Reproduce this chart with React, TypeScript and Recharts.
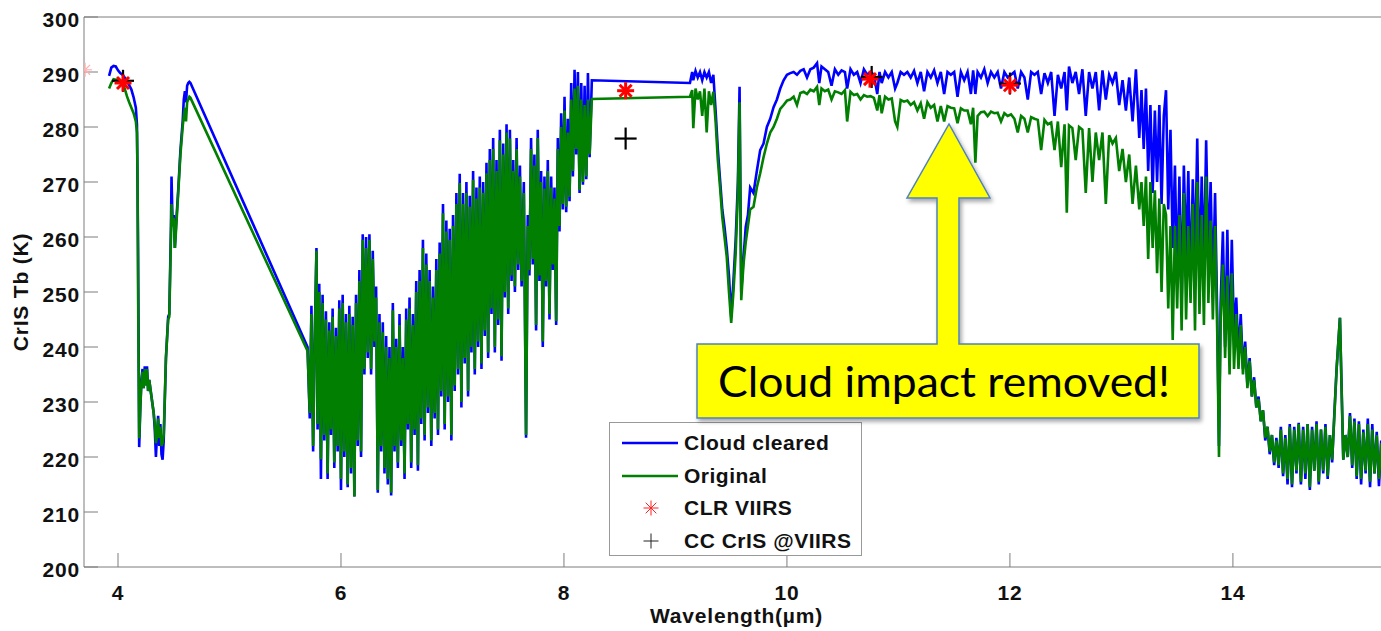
import { ComposedChart, Label, Legend, Line, XAxis, YAxis } from "recharts";

const FONT = "'Liberation Sans', Arial, sans-serif";
const AXIS = "#7d7d7d";

const xTicks = [4, 6, 8, 10, 12, 14];
const yTicks = [200, 210, 220, 230, 240, 250, 260, 270, 280, 290, 300];

// shortwave band, 3.9 - 4.65 um
const wlSW = [
  3.92, 3.94, 3.96, 3.98, 4.0, 4.02, 4.04, 4.06, 4.08, 4.1,
  4.12, 4.14, 4.16, 4.17, 4.175, 4.18, 4.19, 4.2, 4.21, 4.22,
  4.23, 4.24, 4.25, 4.26, 4.27, 4.28, 4.3, 4.32, 4.33, 4.34,
  4.35, 4.36, 4.37, 4.38, 4.39, 4.4, 4.41, 4.43, 4.45, 4.46,
  4.475, 4.48, 4.49, 4.5, 4.51, 4.52, 4.54, 4.56, 4.58, 4.59,
  4.6, 4.61, 4.62, 4.63, 4.64, 4.65,
];
const ccSW = [
  289.3, 290.8, 291.1, 291.0, 290.3, 289.8, 289.5, 289.0, 288.4, 287.6,
  286.8, 285.4, 283.5, 280.5, 270.0, 258.0, 221.8, 229.0, 234.0, 236.0,
  232.5, 236.5, 233.0, 236.5, 232.0, 234.0, 231.0, 228.0, 225.0, 220.0,
  224.0, 227.5, 222.0, 226.0, 220.5, 219.5, 223.0, 238.0, 245.5, 246.0,
  262.0, 271.0, 262.0, 264.0, 258.0, 262.0, 268.5, 275.8, 281.0, 285.0,
  286.5, 284.5, 287.5, 288.0, 288.2, 288.0,
];
const orSW = [
  287.0, 288.0, 288.7, 288.6, 288.5, 288.2, 287.6, 287.0, 285.6, 284.5,
  283.5, 282.5, 281.0, 279.0, 272.0, 250.0, 223.4, 229.0, 233.5, 235.5,
  232.5, 236.0, 233.0, 236.0, 232.0, 234.0, 231.0, 228.0, 226.0, 222.5,
  224.0, 227.0, 223.5, 225.5, 222.0, 222.5, 224.0, 238.0, 245.0, 245.5,
  260.0, 266.0, 262.0, 263.5, 258.0, 261.0, 268.0, 275.0, 280.0, 282.0,
  283.5, 281.0, 284.5, 285.0, 285.5, 285.3,
];

// water vapour band, 5.7 - 8.25 um
const wlWV = [
  5.7, 5.72, 5.735, 5.75, 5.765, 5.78, 5.79, 5.805, 5.82, 5.835,
  5.85, 5.865, 5.88, 5.895, 5.91, 5.925, 5.94, 5.955, 5.97, 5.985,
  6.0, 6.015, 6.03, 6.045, 6.06, 6.075, 6.09, 6.105, 6.12, 6.135,
  6.15, 6.165, 6.18, 6.195, 6.21, 6.225, 6.24, 6.255, 6.27, 6.285,
  6.3, 6.315, 6.33, 6.345, 6.36, 6.375, 6.39, 6.405, 6.42, 6.435,
  6.45, 6.465, 6.48, 6.495, 6.51, 6.525, 6.54, 6.555, 6.57, 6.585,
  6.6, 6.615, 6.63, 6.645, 6.66, 6.675, 6.69, 6.705, 6.72, 6.735,
  6.75, 6.765, 6.78, 6.795, 6.81, 6.825, 6.84, 6.855, 6.87, 6.885,
  6.9, 6.915, 6.93, 6.945, 6.96, 6.975, 6.99, 7.005, 7.02, 7.035,
  7.05, 7.065, 7.08, 7.095, 7.11, 7.125, 7.14, 7.155, 7.17, 7.185,
  7.2, 7.215, 7.23, 7.245, 7.26, 7.275, 7.29, 7.305, 7.32, 7.335,
  7.35, 7.365, 7.38, 7.395, 7.41, 7.425, 7.44, 7.455, 7.47, 7.485,
  7.5, 7.515, 7.53, 7.545, 7.56, 7.575, 7.59, 7.605, 7.62, 7.64,
  7.66, 7.675, 7.69, 7.705, 7.72, 7.735, 7.75, 7.765, 7.78, 7.795,
  7.81, 7.825, 7.84, 7.855, 7.87, 7.885, 7.9, 7.915, 7.93, 7.945,
  7.96, 7.975, 7.99, 8.005, 8.02, 8.035, 8.05, 8.065, 8.08, 8.095,
  8.11, 8.125, 8.14, 8.155, 8.17, 8.185, 8.2, 8.215, 8.23, 8.25,
];
const ccWV = [
  240.0, 227, 247.5, 221, 242.5, 258, 225, 251.5, 216, 249.5,
  223, 246.5, 216, 244.5, 224, 247, 218, 243.5, 221, 248.5,
  214, 249.5, 220, 246, 214.5, 247.5, 217, 245.5, 212.8, 249.5,
  222, 254, 220, 260.5, 235, 260, 238, 260.5, 235, 257.5,
  240, 251, 213.5, 246, 221, 244.5, 217, 242, 215, 240,
  213, 248, 221, 241.5, 218, 246, 222, 240, 216, 247,
  225, 249, 218, 246, 224, 252, 217.5, 254, 226, 259.5,
  223, 257, 228, 254, 222, 251, 227, 256, 224, 259,
  231, 266, 225, 263, 230, 261.5, 223, 264, 232, 268,
  235, 271.5, 229, 268, 237, 270, 231, 267.5, 239, 272,
  235, 269, 240, 271, 236, 270, 242, 273.5, 238, 276,
  246, 278, 239, 274, 244, 279.5, 237.5, 277, 249, 280.5,
  246, 279.5, 252, 274, 250, 278, 254, 273, 251, 270,
  223.5, 264, 253, 278, 255, 275, 243, 279.5, 252, 272,
  240, 271, 251, 274, 245, 271, 254, 269, 244, 278,
  261, 282.5, 265, 285.5, 264.5, 281.5, 266.5, 288, 271, 290.4,
  275, 290, 268, 288, 269.5, 287.5, 270.5, 289.8, 274.5, 288.5,
];
const orWV = [
  239.3, 228, 246, 222, 241, 257.5, 226, 250, 219.6, 248,
  224, 245, 217, 243, 225, 245.5, 219, 242, 222, 247,
  216, 248, 221, 244.5, 215, 246, 218, 244, 212.8, 248,
  223, 252, 221, 259.5, 236, 258, 239, 259.5, 236, 256,
  241, 249, 214, 244.5, 222, 242.7, 218, 240, 216, 238,
  213.5, 246.7, 222, 240, 219, 244, 223, 238, 217, 245,
  226, 247, 219, 244, 225, 250, 218.5, 252, 227, 258,
  224, 255, 229, 252, 223, 249, 228, 254, 225, 257,
  232, 264.3, 226, 261, 231, 259.5, 224, 262, 233, 266,
  236, 269.8, 230, 266, 238, 268, 232, 265.5, 240, 270.4,
  236, 267, 241, 269, 237, 268, 243, 271.6, 239, 274,
  247, 276, 240, 272, 245, 277.6, 238.3, 275, 250, 279,
  247, 277.9, 253, 272, 251, 276, 255, 271, 252, 268,
  224, 262, 254, 276, 256, 273, 244, 278, 253, 270,
  241, 268.8, 252, 272, 246, 269, 255, 267, 244.7, 276,
  262, 280, 266, 283, 265.5, 279, 267.3, 285, 272, 287,
  276, 287.5, 268.5, 285, 270, 284, 271, 285, 275, 285.1,
];

// longwave window and CO2 band, 9.13 - 15.4 um
const wlLW = [
  9.13, 9.15, 9.16, 9.18, 9.2, 9.22, 9.24, 9.26, 9.28, 9.3,
  9.32, 9.34, 9.36, 9.38, 9.4, 9.42, 9.44, 9.46, 9.48, 9.5,
  9.52, 9.54, 9.56, 9.575, 9.59, 9.61, 9.63, 9.65, 9.67, 9.7,
  9.73, 9.76, 9.79, 9.82, 9.85, 9.88, 9.91, 9.94, 9.97, 10.0,
  10.03, 10.06, 10.09, 10.12, 10.15, 10.18, 10.21, 10.24, 10.27, 10.29,
  10.31, 10.34, 10.37, 10.4, 10.43, 10.46, 10.49, 10.52, 10.54, 10.57,
  10.6, 10.63, 10.66, 10.69, 10.72, 10.75, 10.78, 10.81, 10.83, 10.85,
  10.88, 10.91, 10.94, 10.97, 10.99, 11.02, 11.05, 11.08, 11.11, 11.14,
  11.17, 11.2, 11.23, 11.26, 11.29, 11.32, 11.35, 11.38, 11.41, 11.44,
  11.47, 11.5, 11.53, 11.56, 11.59, 11.62, 11.65, 11.67, 11.69, 11.71,
  11.74, 11.77, 11.8, 11.83, 11.86, 11.89, 11.92, 11.95, 11.98, 12.01,
  12.04, 12.07, 12.1, 12.13, 12.16, 12.19, 12.22, 12.25, 12.28, 12.31,
  12.34, 12.37, 12.4, 12.43, 12.46, 12.49, 12.51, 12.53, 12.56, 12.59,
  12.62, 12.65, 12.68, 12.71, 12.74, 12.77, 12.8, 12.83, 12.86, 12.89,
  12.92, 12.95, 12.98, 13.01, 13.04, 13.07, 13.1, 13.13, 13.16, 13.18,
  13.2, 13.22, 13.24, 13.26, 13.28, 13.3, 13.32, 13.34, 13.36, 13.38,
  13.4, 13.42, 13.44, 13.46, 13.48, 13.5, 13.52, 13.54, 13.56, 13.58,
  13.6, 13.62, 13.64, 13.66, 13.68, 13.7, 13.72, 13.74, 13.76, 13.78,
  13.8, 13.82, 13.84, 13.86, 13.875, 13.89, 13.91, 13.93, 13.95, 13.97,
  13.99, 14.01, 14.03, 14.05, 14.07, 14.09, 14.11, 14.13, 14.15, 14.17,
  14.19, 14.21, 14.23, 14.25, 14.27, 14.29, 14.31, 14.33, 14.35, 14.37,
  14.39, 14.41, 14.43, 14.45, 14.47, 14.49, 14.51, 14.53, 14.55, 14.57,
  14.59, 14.61, 14.63, 14.65, 14.67, 14.69, 14.71, 14.73, 14.75, 14.77,
  14.79, 14.81, 14.83, 14.85, 14.87, 14.89, 14.91, 14.93, 14.96, 14.99,
  15.01, 15.03, 15.05, 15.07, 15.09, 15.11, 15.13, 15.15, 15.17, 15.19,
  15.21, 15.23, 15.25, 15.27, 15.29, 15.31, 15.33, 15.35, 15.37, 15.4,
];
const ccLW = [
  288.0, 290.0, 288.5, 290.2, 289.0, 290.0, 288.5, 290.0, 289.0, 290.0,
  288.0, 289.5, 283.0, 276.0, 270.4, 265.0, 261.8, 258.0, 253.0, 245.5,
  252.0, 259.5, 270.0, 287.3, 250.0, 256.0, 261.8, 264.0, 269.0, 268.0,
  272.0, 275.8, 277.0, 280.0, 281.5, 283.6, 285.0, 287.0, 288.5, 289.5,
  289.8, 290.0, 289.5, 290.2, 290.5, 289.0, 290.5, 290.8, 291.6, 288.0,
  291.0, 290.5, 290.0, 287.5, 290.5, 289.5, 290.3, 290.0, 287.0, 290.5,
  289.5, 290.0, 288.0, 290.5, 289.5, 290.0, 289.5, 286.0, 290.0, 288.0,
  290.0, 289.0, 290.0, 287.0, 288.0, 290.0, 289.5, 290.0, 289.0, 290.2,
  288.0, 290.0, 286.5, 290.0, 289.0, 290.3, 288.0, 290.0, 286.0, 290.0,
  289.5, 290.0, 285.5, 290.0, 288.5, 290.0, 286.0, 290.3, 286.0, 290.0,
  289.0, 290.5, 288.0, 290.0, 289.0, 290.0, 287.0, 290.0, 289.0, 289.5,
  290.0, 287.0, 290.0, 289.0, 285.0, 290.0, 289.5, 290.0, 286.0, 289.8,
  288.0, 290.0, 282.0, 289.5, 287.0, 290.0, 283.0, 291.0, 288.0, 290.0,
  286.0, 290.5, 282.0, 290.0, 287.0, 290.0, 283.0, 290.3, 285.0, 289.5,
  288.0, 290.0, 284.0, 288.5, 283.0, 289.0, 281.0, 290.5, 278.0, 286.7,
  276.0, 287.0, 272.0, 284.0, 268.0, 283.0, 270.0, 284.0, 266.0, 282.0,
  286.7, 265.0, 279.5, 258.0, 273.0, 252.0, 271.0, 248.0, 273.0, 256.0,
  272.0, 250.0, 270.5, 255.0, 277.9, 252.0, 271.0, 254.0, 277.6, 256.0,
  270.0, 250.0, 268.0, 245.0, 222.0, 248.0, 261.0, 240.0, 261.3, 238.0,
  259.5, 242.0, 249.0, 238.0, 246.0, 236.0, 241.0, 233.0, 238.0, 231.0,
  234.5, 229.0, 231.0, 226.5, 228.5, 223.0, 225.5, 220.5, 224.0, 218.5,
  223.5, 218.0, 225.5, 216.5, 224.0, 215.0, 226.0, 214.5, 225.5, 217.0,
  226.2, 215.0, 225.5, 216.0, 226.0, 214.0, 225.5, 217.5, 226.5, 215.0,
  225.0, 217.0, 226.0, 216.0, 224.0, 219.0, 228.0, 236.0, 245.3, 219.5,
  224.0, 220.0, 228.0, 218.0, 227.0, 216.0, 226.5, 215.0, 225.0, 217.0,
  227.0, 214.5, 226.0, 217.0, 224.6, 214.7, 223.0, 216.0, 224.0, 220.0,
];
const orLW = [
  285.5, 286.7, 279.8, 287.0, 285.0, 286.5, 282.0, 287.0, 279.0, 286.5,
  284.0, 286.4, 281.0, 274.0, 269.0, 263.6, 260.0, 256.4, 250.0, 244.4,
  250.0, 257.0, 268.0, 284.5, 248.5, 255.0, 259.0, 262.0, 265.0, 265.5,
  269.0, 271.6, 274.5, 277.0, 279.0, 280.0, 281.5, 283.3, 284.0, 284.8,
  285.0, 285.5, 284.0, 286.2, 286.4, 286.0, 286.8, 286.5, 287.3, 284.0,
  287.0, 286.5, 286.8, 285.0, 286.5, 286.3, 286.0, 286.7, 281.0, 286.4,
  285.8, 286.0, 285.0, 285.8, 285.5, 285.6, 285.3, 283.0, 285.8, 282.5,
  285.5, 285.0, 285.2, 281.0, 280.0, 284.9, 284.6, 284.8, 284.0, 284.5,
  283.0, 284.3, 281.5, 284.5, 283.5, 284.0, 281.0, 283.8, 281.0, 283.8,
  283.5, 283.4, 280.7, 283.4, 283.0, 283.0, 280.5, 283.5, 273.5, 282.0,
  282.7, 282.8, 282.0, 282.8, 282.5, 282.6, 281.0, 282.5, 282.0, 282.3,
  281.5, 279.0, 282.0, 281.5, 279.0, 281.8, 281.5, 281.3, 275.8, 281.3,
  280.5, 280.8, 275.8, 281.0, 272.7, 280.5, 264.4, 280.3, 279.8, 274.0,
  280.0, 279.5, 268.0, 279.8, 270.0, 279.0, 274.0, 279.0, 266.0, 278.5,
  277.0, 278.0, 272.0, 276.0, 270.0, 275.0, 266.0, 273.0, 265.0, 270.0,
  262.0, 271.0, 256.0, 270.0, 258.0, 268.5, 253.4, 267.0, 250.0, 266.0,
  264.0, 247.0, 262.0, 241.3, 262.0, 247.0, 264.0, 243.0, 268.0, 245.0,
  262.0, 248.0, 266.0, 243.0, 270.0, 246.0, 264.0, 244.0, 271.0, 248.0,
  263.0, 245.0, 262.0, 242.0, 220.0, 245.0, 255.0, 238.0, 253.0, 235.0,
  253.4, 236.0, 246.0, 236.0, 244.0, 235.0, 240.0, 232.5, 237.5, 231.0,
  234.0, 229.0, 230.5, 226.5, 228.5, 223.5, 225.5, 221.0, 224.0, 219.0,
  223.0, 218.5, 225.0, 217.0, 223.5, 216.0, 225.5, 215.0, 225.0, 217.5,
  226.0, 215.5, 225.0, 217.0, 226.0, 214.5, 225.0, 217.5, 226.0, 215.5,
  225.0, 217.5, 225.5, 216.5, 224.0, 219.5, 227.5, 236.0, 245.3, 219.5,
  224.0, 220.0, 227.5, 218.5, 226.5, 216.5, 226.0, 216.0, 224.5, 217.5,
  226.0, 215.5, 225.0, 217.0, 224.0, 216.0, 222.5, 216.5, 223.5, 220.0,
];

// VIIRS band matchups
const clrWl = [4.045, 8.553, 10.745, 12.0];
const clrTb = [288.0, 286.6, 288.7, 287.6];
const ccViirsWl = [4.045, 8.553, 10.76, 12.0];
const ccViirsTb = [288.4, 277.9, 289.1, 287.9];
const ghostWl = [3.705];
const ghostTb = [290.4];

const wavelength = [...wlSW, ...wlWV, ...wlLW];
const cloudCleared = [...ccSW, ...ccWV, ...ccLW];
const original = [...orSW, ...orWV, ...orLW];

const spectrum = wavelength.map((wl, i) => ({ wl, cc: cloudCleared[i], orig: original[i] }));
const clrPoints = clrWl.map((wl, i) => ({ wl, tb: clrTb[i] }));
const ccViirsPoints = ccViirsWl.map((wl, i) => ({ wl, tb: ccViirsTb[i] }));
const ghostPoints = ghostWl.map((wl, i) => ({ wl, tb: ghostTb[i] }));

const textStyle = { fill: "#111", fontSize: 21, fontWeight: "bold", fontFamily: FONT, letterSpacing: 0.8 };

function Asterisk({ cx, cy, r, color, width }: any) {
  const d = r * 0.7071;
  return (
    <g stroke={color} strokeWidth={width}>
      <line x1={cx - r} y1={cy} x2={cx + r} y2={cy} />
      <line x1={cx} y1={cy - r} x2={cx} y2={cy + r} />
      <line x1={cx - d} y1={cy - d} x2={cx + d} y2={cy + d} />
      <line x1={cx - d} y1={cy + d} x2={cx + d} y2={cy - d} />
    </g>
  );
}

function Plus({ cx, cy, r, color, width }: any) {
  return (
    <g stroke={color} strokeWidth={width}>
      <line x1={cx - r} y1={cy} x2={cx + r} y2={cy} />
      <line x1={cx} y1={cy - r} x2={cx} y2={cy + r} />
    </g>
  );
}

const legendItems = [
  { name: "Cloud cleared", kind: "line", color: "#0000ff" },
  { name: "Original", kind: "line", color: "#007f00" },
  { name: "CLR VIIRS", kind: "star", color: "#ff2020" },
  { name: "CC CrIS @VIIRS", kind: "plus", color: "#222" },
];

function LegendBox() {
  return (
    <div
      style={{
        width: 253,
        height: 134,
        boxSizing: "border-box",
        border: "1px solid #999",
        background: "#fff",
        paddingTop: 4,
        fontFamily: FONT,
      }}
    >
      {legendItems.map((it) => (
        <div key={it.name} style={{ display: "flex", alignItems: "center", height: 32.5 }}>
          <svg width={70} height={24} style={{ marginLeft: 1 }}>
            {it.kind === "line" && <line x1={11} y1={12} x2={67} y2={12} stroke={it.color} strokeWidth={2.5} />}
            {it.kind === "star" && <Asterisk cx={40} cy={12} r={7.5} color={it.color} width={1} />}
            {it.kind === "plus" && <Plus cx={40} cy={12} r={7.5} color={it.color} width={1} />}
          </svg>
          <span style={{ marginLeft: 3, fontSize: 21, fontWeight: "bold", color: "#111", letterSpacing: 0.5 }}>
            {it.name}
          </span>
        </div>
      ))}
    </div>
  );
}

function Callout() {
  const path = "M697,344 L937,344 L937,198 L907,198 L949,124 L990,198 L959,198 L959,344 L1199,344 L1199,418 L697,418 Z";
  return (
    <svg width={1381} height={631} style={{ position: "absolute", left: 0, top: 0, pointerEvents: "none" }}>
      <defs>
        <filter id="shadow" x="-10%" y="-10%" width="120%" height="130%">
          <feDropShadow dx="2" dy="3" stdDeviation="2" floodColor="#000" floodOpacity="0.35" />
        </filter>
      </defs>
      <path d={path} fill="#ffff00" stroke="#4f81bd" strokeWidth={1.5} filter="url(#shadow)" />
      <text
        x={718}
        y={397}
        fontFamily="Lato, 'Open Sans', sans-serif"
        fontSize={42}
        fill="#000"
        textLength={452}
        lengthAdjust="spacingAndGlyphs"
      >
        Cloud impact removed!
      </text>
    </svg>
  );
}

export default function App() {
  return (
    <div style={{ position: "absolute", left: 0, top: 0, width: 1381, height: 631, overflow: "hidden", background: "#fff" }}>
      <ComposedChart width={1390} height={631} data={spectrum} margin={{ top: 16, right: 0, bottom: 0, left: 0 }}>
        <XAxis
          dataKey="wl"
          type="number"
          domain={[3.695, 15.4]}
          allowDataOverflow
          ticks={xTicks}
          interval={0}
          height={64}
          tickSize={-14}
          tickMargin={32}
          stroke={AXIS}
          tick={textStyle}
        >
          <Label value="Wavelength(µm)" position="center" dy={17} {...textStyle} />
        </XAxis>
        <XAxis
          xAxisId="top"
          orientation="top"
          dataKey="wl"
          type="number"
          domain={[3.695, 15.4]}
          allowDataOverflow
          ticks={xTicks}
          interval={0}
          height={1}
          tickSize={-14}
          tick={false}
          stroke={AXIS}
        />
        <YAxis
          dataKey="tb"
          type="number"
          domain={[200, 300]}
          allowDataOverflow
          ticks={yTicks}
          interval={0}
          width={84}
          tickSize={-14}
          tickMargin={18}
          stroke={AXIS}
          tick={{ ...textStyle, dy: 3 }}
        >
          <Label value="CrIS Tb (K)" position="center" angle={-90} dx={-21} {...textStyle} />
        </YAxis>
        <YAxis
          yAxisId="right"
          orientation="right"
          type="number"
          domain={[200, 300]}
          allowDataOverflow
          ticks={yTicks}
          interval={0}
          width={1}
          tickSize={-14}
          tick={false}
          stroke={AXIS}
        />
        <Line dataKey="cc" stroke="#0000ff" strokeWidth={2.6} dot={false} activeDot={false} isAnimationActive={false} />
        <Line dataKey="orig" stroke="#007f00" strokeWidth={2.6} dot={false} activeDot={false} isAnimationActive={false} />
        <Line
          data={ghostPoints}
          dataKey="tb"
          stroke="none"
          activeDot={false}
          isAnimationActive={false}
          dot={(p: any) => <Asterisk key={`g-${p.index}`} cx={p.cx} cy={p.cy} r={7} color="#ffb0b0" width={1.2} />}
        />
        <Line
          data={ccViirsPoints}
          dataKey="tb"
          stroke="none"
          activeDot={false}
          isAnimationActive={false}
          dot={(p: any) => <Plus key={`p-${p.index}`} cx={p.cx} cy={p.cy} r={11} color="#000" width={2.2} />}
        />
        <Line
          data={clrPoints}
          dataKey="tb"
          stroke="none"
          activeDot={false}
          isAnimationActive={false}
          dot={(p: any) => <Asterisk key={`a-${p.index}`} cx={p.cx} cy={p.cy} r={8.5} color="#ff0000" width={3} />}
        />
        <Legend
          layout="vertical"
          align="center"
          verticalAlign="middle"
          wrapperStyle={{ left: 609, top: 422, width: 254, height: 135 }}
          content={() => <LegendBox />}
        />
      </ComposedChart>
      <Callout />
    </div>
  );
}
